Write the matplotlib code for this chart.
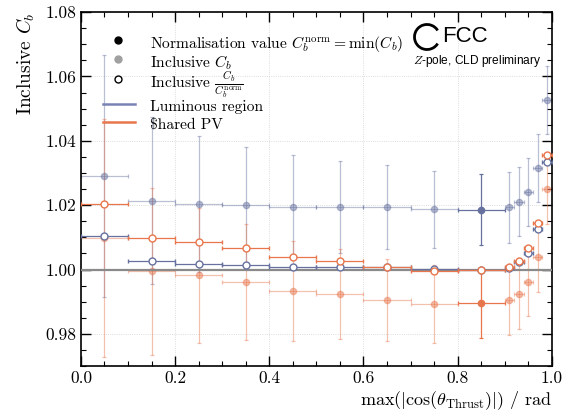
import matplotlib
matplotlib.use("Agg")
import matplotlib.pyplot as plt
from matplotlib.lines import Line2D
from matplotlib.patches import Arc
from matplotlib.ticker import MultipleLocator

plt.rcParams["font.family"] = "serif"
plt.rcParams["font.serif"] = ["cmr10"]
plt.rcParams["mathtext.fontset"] = "cm"
plt.rcParams["axes.formatter.use_mathtext"] = True

# bin centres and half widths in max(|cos(theta_thrust)|)
bin_centres = [0.05, 0.15, 0.25, 0.35, 0.45, 0.55, 0.65, 0.75, 0.85,
               0.91, 0.93, 0.95, 0.97, 0.99]
bin_halfwidths = [0.05, 0.05, 0.05, 0.05, 0.05, 0.05, 0.05, 0.05, 0.05,
                  0.01, 0.01, 0.01, 0.01, 0.01]
norm_index = 8

# Luminous region
lum_cb = [1.0291, 1.0214, 1.0204, 1.0200, 1.0195, 1.0195, 1.0195, 1.0187,
          1.0186, 1.0194, 1.0211, 1.0241, 1.0315, 1.0527]
lum_err = [0.0377, 0.026, 0.021, 0.018, 0.016, 0.0143, 0.013, 0.012,
           0.011, 0.011, 0.0108, 0.0105, 0.0105, 0.0106]
lum_norm = [1.0103, 1.0027, 1.0016, 1.0013, 1.0008, 1.0007, 1.0009, 1.0001,
            1.0000, 1.0006, 1.0025, 1.0051, 1.0125, 1.0334]

# Shared PV
spv_cb = [1.0099, 0.9995, 0.9982, 0.9961, 0.9934, 0.9923, 0.9906, 0.9893,
          0.9896, 0.9905, 0.9925, 0.9962, 1.0038, 1.0249]
spv_err = [0.037, 0.026, 0.021, 0.018, 0.0156, 0.014, 0.0128, 0.012,
           0.0108, 0.0108, 0.011, 0.0107, 0.0108, 0.0108]
spv_norm = [1.0204, 1.0099, 1.0086, 1.0066, 1.0039, 1.0026, 1.0009, 0.9997,
            1.0000, 1.0007, 1.0028, 1.0066, 1.0144, 1.0356]

series = [
    ("Luminous region", "#66719f", lum_cb, lum_err, lum_norm),
    (r"\$hared PV", "#e8764c", spv_cb, spv_err, spv_norm),
]

W, H = 570, 417
fig = plt.figure(figsize=(W / 100, H / 100), dpi=100)
ax = fig.add_axes([0.142, 0.122, 0.826, 0.849])

for label, color, cb, err, norm in series:
    others = [i for i in range(len(bin_centres)) if i != norm_index]
    ax.errorbar([bin_centres[i] for i in others], [cb[i] for i in others],
                xerr=[bin_halfwidths[i] for i in others],
                yerr=[err[i] for i in others],
                fmt="o", ms=4.5, color=color, alpha=0.45, lw=0.9,
                capsize=1.5, capthick=0.9, zorder=2)
    ax.errorbar([bin_centres[norm_index]], [cb[norm_index]],
                xerr=[bin_halfwidths[norm_index]], yerr=[err[norm_index]],
                fmt="o", ms=4.5, color=color, lw=0.9,
                capsize=1.5, capthick=0.9, zorder=3)

ax.axhline(1.0, color="#8a8a8a", lw=1.6, zorder=4)

for label, color, cb, err, norm in series:
    ax.errorbar(bin_centres, norm, xerr=bin_halfwidths, fmt="o", ms=5,
                color=color, mfc="white", mec=color, mew=1.0, lw=0.9,
                capsize=1.5, capthick=0.9, zorder=5)

ax.set_xlim(0.0, 1.0)
ax.set_ylim(0.97, 1.08)
ax.xaxis.set_major_locator(MultipleLocator(0.2))
ax.xaxis.set_minor_locator(MultipleLocator(0.05))
ax.yaxis.set_major_locator(MultipleLocator(0.02))
ax.yaxis.set_minor_locator(MultipleLocator(0.005))
ax.xaxis.set_major_formatter(matplotlib.ticker.FormatStrFormatter("%.1f"))
ax.yaxis.set_major_formatter(matplotlib.ticker.FormatStrFormatter("%.2f"))
ax.tick_params(which="both", direction="in", top=True, right=True, labelsize=12.5)
ax.tick_params(which="major", length=7, width=1.0)
ax.tick_params(which="minor", length=3.5, width=0.8)
for s in ax.spines.values():
    s.set_linewidth(1.2)
ax.grid(True, which="major", ls=":", lw=0.6, color="#d2d2d2")
ax.set_axisbelow(True)

ax.set_ylabel(r"Inclusive $C_b$", fontsize=14, loc="top", labelpad=6)
ax.set_xlabel(r"$\max(|\cos(\theta_{\mathrm{Thrust}})|)$ / rad", fontsize=13,
              loc="right", labelpad=2)

# legend, laid out by hand to follow the compact row spacing
# (label, handle style, handle y, text y) in pixels from the top
legend_rows = [
    (r"Normalisation value $C_b^{\mathrm{norm}} = \min(C_b)$",
     dict(marker="o", ls="none", ms=5, color="black"), 40, 41),
    (r"Inclusive $C_b$",
     dict(marker="o", ls="none", ms=5, color="#a0a0a0"), 59, 60),
    (r"Inclusive $\frac{C_b}{C_b^{\mathrm{norm}}}$",
     dict(marker="o", ls="none", ms=5, mfc="white", mec="black", mew=1.0), 79, 79),
    (series[0][0], dict(color="#7a82b5", lw=1.8), 104, 105),
    (series[1][0], dict(color="#e8764c", lw=1.8), 122, 123),
]
for text, style, ypx, ytext in legend_rows:
    yf = 1 - ypx / H
    if style.get("ls") == "none":
        xs = [118 / W]
    else:
        xs = [103 / W, 135 / W]
    fig.add_artist(Line2D(xs, [yf] * len(xs), transform=fig.transFigure, **style))
    fig.text(150 / W, 1 - ytext / H, text, fontsize=11.2, va="center_baseline",
             ha="left")

# FCC logo
ax.add_patch(Arc((427 / W, 1 - 37 / H), 25 / W, 25 / H,
                 theta1=40, theta2=320, lw=2.0, color="black",
                 transform=fig.transFigure, zorder=10))
fig.text(442 / W, 1 - 37 / H, "FCC", fontsize=16, family="Liberation Sans",
         va="center", ha="left")
fig.text(541 / W, 1 - 61 / H, r"$\mathit{Z}$-pole, CLD preliminary",
         fontsize=8.6, family="Liberation Sans", va="center", ha="right")

fig.savefig("out.png", dpi=100)
